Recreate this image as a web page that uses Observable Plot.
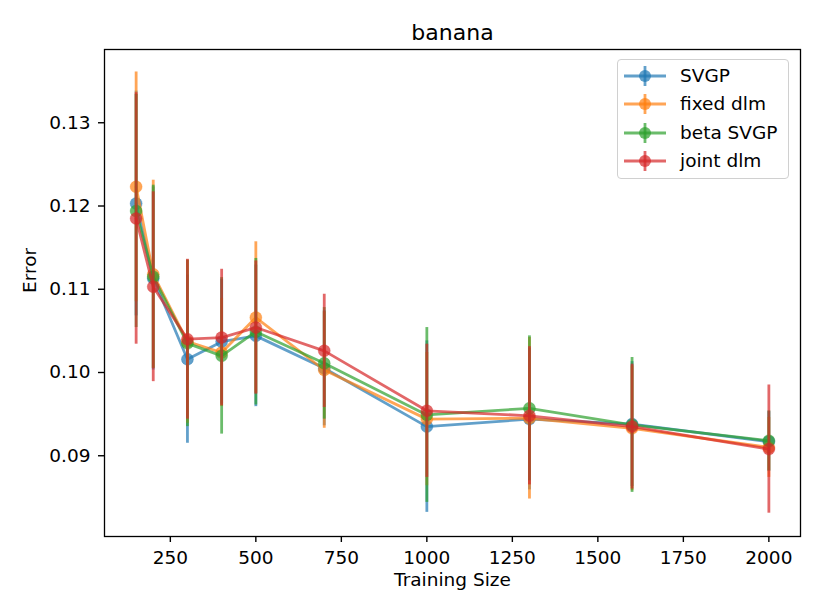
<!DOCTYPE html>
<html>
<head>
<meta charset="utf-8">
<script src="https://cdn.jsdelivr.net/npm/d3@7"></script>
<script src="https://cdn.jsdelivr.net/npm/@observablehq/plot@0.6"></script>
<style>
  html, body { margin: 0; padding: 0; background: #fff; }
  #wrap { position: relative; width: 822px; height: 616px; font-family: "DejaVu Sans", sans-serif; }
  #wrap svg [aria-label$="tick"] path { stroke-width: 1.4px; }
  #legend { position: absolute; left: 617px; top: 59px; width: 172px; height: 120px;
            border: 1px solid #d0d0d0; border-radius: 4px; background: rgba(255,255,255,0.8);
            box-sizing: border-box; }
  .row { position: absolute; left: 0; height: 28px; width: 172px; }
  .row svg { position: absolute; left: 4px; top: 0; }
  .row span { position: absolute; left: 62px; top: 2px; font-size: 18.5px; line-height: 24px; color: #000; }
</style>
</head>
<body>
<div id="wrap"><div id="legend"></div></div>
<script>
const sizes = [150, 200, 300, 400, 500, 700, 1000, 1300, 1600, 2000];
const seriesNames = ["SVGP", "fixed dlm", "beta SVGP", "joint dlm"];
const seriesColors = ["#1f77b4", "#ff7f0e", "#2ca02c", "#d62728"];

const svgpMean  = [0.1203, 0.1113, 0.1016, 0.1037, 0.1044, 0.1005, 0.0935, 0.0944, 0.0938, 0.0917];
const svgpErr   = [0.0135, 0.0110, 0.0101, 0.0075, 0.0085, 0.0069, 0.0103, 0.0085, 0.0075, 0.0036];
const fixedMean = [0.1223, 0.1118, 0.1037, 0.1024, 0.1066, 0.1003, 0.0944, 0.0945, 0.0933, 0.0910];
const fixedErr  = [0.0138, 0.0113, 0.0098, 0.0065, 0.0091, 0.0070, 0.0080, 0.0097, 0.0075, 0.0036];
const betaMean  = [0.1194, 0.1115, 0.1035, 0.1020, 0.1049, 0.1011, 0.0949, 0.0957, 0.0937, 0.0918];
const betaErr   = [0.0140, 0.0110, 0.0100, 0.0094, 0.0088, 0.0067, 0.0105, 0.0087, 0.0081, 0.0036];
const jointMean = [0.1185, 0.1103, 0.1040, 0.1042, 0.1054, 0.1026, 0.0954, 0.0948, 0.0935, 0.0908];
const jointErr  = [0.0151, 0.0114, 0.0096, 0.0082, 0.0080, 0.0068, 0.0080, 0.0083, 0.0075, 0.0077];

const xTicks = [250, 500, 750, 1000, 1250, 1500, 1750, 2000];
const yTicks = [0.09, 0.10, 0.11, 0.12, 0.13];
const titleText = "banana";
const xLabel = "Training Size";
const yLabel = "Error";

const means = [svgpMean, fixedMean, betaMean, jointMean];
const errs = [svgpErr, fixedErr, betaErr, jointErr];

const marks = [];
seriesNames.forEach((name, s) => {
  const rows = sizes.map((n, i) => ({
    series: name, size: n, mean: means[s][i],
    lo: means[s][i] - errs[s][i], hi: means[s][i] + errs[s][i]
  }));
  marks.push(Plot.ruleX(rows, {x: "size", y1: "lo", y2: "hi", stroke: "series", strokeWidth: 2.8, strokeOpacity: 0.7}));
  marks.push(Plot.line(rows, {x: "size", y: "mean", stroke: "series", strokeWidth: 2.8, strokeOpacity: 0.7}));
  marks.push(Plot.dot(rows, {x: "size", y: "mean", fill: "series", r: 6, fillOpacity: 0.7, stroke: "series", strokeOpacity: 0.3, strokeWidth: 1}));
});

const chart = Plot.plot({
  width: 822,
  height: 616,
  marginLeft: 104,
  marginRight: 22,
  marginTop: 49,
  marginBottom: 80,
  style: {fontFamily: "DejaVu Sans, sans-serif", fontSize: "18.5px", background: "#fff", color: "#000"},
  x: {domain: [57.5, 2092.5], ticks: xTicks, tickFormat: d3.format("d"), tickSize: 6, tickPadding: 8, label: null},
  y: {domain: [0.0803, 0.1388], ticks: yTicks, tickFormat: d3.format(".2f"), tickSize: 6, tickPadding: 8, label: null},
  color: {domain: seriesNames, range: seriesColors},
  marks: [
    ...marks,
    Plot.frame({stroke: "#000", strokeWidth: 1.3}),
    Plot.text([titleText], {frameAnchor: "top", dy: -10, lineAnchor: "bottom", fontSize: 22, text: d => d}),
    Plot.text([xLabel], {frameAnchor: "bottom", dy: 44, lineAnchor: "middle", fontSize: 18.5, text: d => d}),
    Plot.text([yLabel], {frameAnchor: "left", dx: -74, rotate: -90, lineAnchor: "middle", fontSize: 18.5, text: d => d})
  ]
});
const wrap = document.getElementById("wrap");
wrap.insertBefore(chart, wrap.firstChild);

const legend = document.getElementById("legend");
seriesNames.forEach((name, i) => {
  const row = document.createElement("div");
  row.className = "row";
  row.style.top = (2 + i * 28.3) + "px";
  const c = seriesColors[i];
  row.innerHTML =
    `<svg width="50" height="28" viewBox="0 0 50 28">
       <line x1="2" x2="44" y1="14" y2="14" stroke="${c}" stroke-width="2.8" stroke-opacity="0.7"/>
       <line x1="23" x2="23" y1="4" y2="24" stroke="${c}" stroke-width="2.8" stroke-opacity="0.7"/>
       <circle cx="23" cy="14" r="6" fill="${c}" fill-opacity="0.7"/>
     </svg><span>${name}</span>`;
  legend.appendChild(row);
});
</script>
</body>
</html>
